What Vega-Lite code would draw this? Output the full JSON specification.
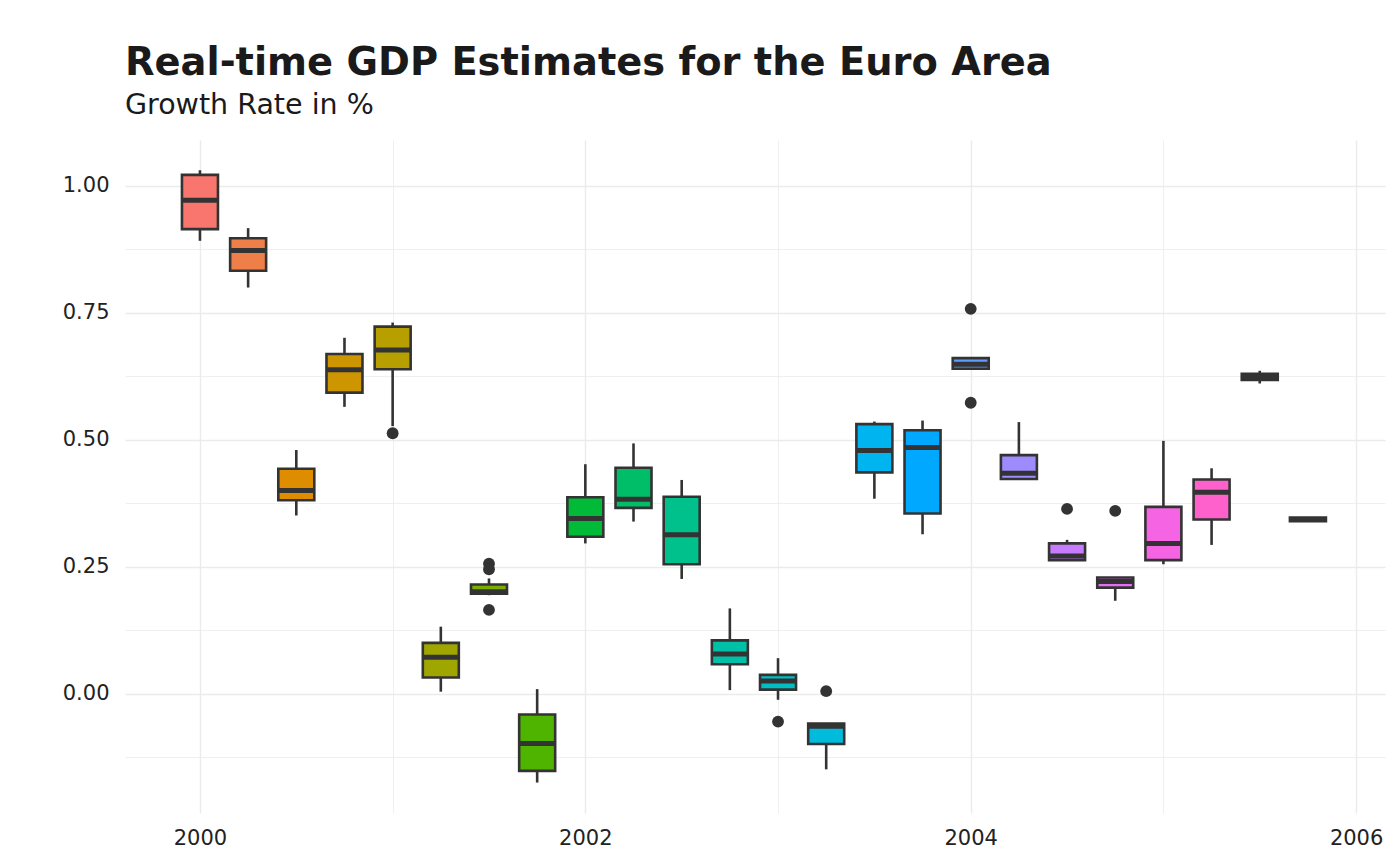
{
  "$schema": "https://vega.github.io/schema/vega-lite/v6.json",
  "autosize": "none",
  "width": 1260,
  "height": 673,
  "padding": {"left": 125, "top": 140, "right": 15, "bottom": 52},
  "background": "white",
  "title": {
    "text": "Real-time GDP Estimates for the Euro Area",
    "subtitle": "Growth Rate in %",
    "anchor": "start",
    "frame": "group",
    "font": "DejaVu Sans",
    "fontSize": 38.4,
    "fontWeight": "bold",
    "color": "#1A1A1A",
    "subtitleFont": "DejaVu Sans",
    "subtitleFontSize": 28.5,
    "subtitleColor": "#1A1A1A",
    "subtitlePadding": 7,
    "offset": 20
  },
  "config": {
    "view": {"stroke": null},
    "axis": {
      "domain": false,
      "ticks": false,
      "tickSize": 0,
      "labelFont": "DejaVu Sans",
      "labelFontSize": 21,
      "labelColor": "#222222",
      "gridColor": "#EBEBEB",
      "title": null
    }
  },
  "datasets": {
    "boxes": [
      {"q": "2000Q1", "t": 2000.00, "lo": 0.892, "q1": 0.915, "med": 0.972, "q3": 1.022, "hi": 1.031},
      {"q": "2000Q2", "t": 2000.25, "lo": 0.800, "q1": 0.833, "med": 0.873, "q3": 0.897, "hi": 0.917},
      {"q": "2000Q3", "t": 2000.50, "lo": 0.351, "q1": 0.381, "med": 0.400, "q3": 0.443, "hi": 0.480},
      {"q": "2000Q4", "t": 2000.75, "lo": 0.565, "q1": 0.593, "med": 0.638, "q3": 0.669, "hi": 0.701},
      {"q": "2001Q1", "t": 2001.00, "lo": 0.527, "q1": 0.639, "med": 0.677, "q3": 0.723, "hi": 0.731},
      {"q": "2001Q2", "t": 2001.25, "lo": 0.004, "q1": 0.032, "med": 0.072, "q3": 0.100, "hi": 0.132},
      {"q": "2001Q3", "t": 2001.50, "lo": 0.194, "q1": 0.197, "med": 0.201, "q3": 0.215, "hi": 0.227},
      {"q": "2001Q4", "t": 2001.75, "lo": -0.175, "q1": -0.152, "med": -0.098, "q3": -0.041, "hi": 0.009},
      {"q": "2002Q1", "t": 2002.00, "lo": 0.296, "q1": 0.309, "med": 0.345, "q3": 0.387, "hi": 0.452},
      {"q": "2002Q2", "t": 2002.25, "lo": 0.339, "q1": 0.366, "med": 0.383, "q3": 0.445, "hi": 0.493},
      {"q": "2002Q3", "t": 2002.50, "lo": 0.226, "q1": 0.255, "med": 0.313, "q3": 0.388, "hi": 0.421},
      {"q": "2002Q4", "t": 2002.75, "lo": 0.007, "q1": 0.058, "med": 0.078, "q3": 0.105, "hi": 0.168},
      {"q": "2003Q1", "t": 2003.00, "lo": -0.012, "q1": 0.008, "med": 0.025, "q3": 0.037, "hi": 0.070},
      {"q": "2003Q2", "t": 2003.25, "lo": -0.149, "q1": -0.099, "med": -0.064, "q3": -0.059, "hi": -0.059},
      {"q": "2003Q3", "t": 2003.50, "lo": 0.384, "q1": 0.436, "med": 0.479, "q3": 0.531, "hi": 0.536},
      {"q": "2003Q4", "t": 2003.75, "lo": 0.314, "q1": 0.355, "med": 0.485, "q3": 0.519, "hi": 0.538},
      {"q": "2004Q1", "t": 2004.00, "lo": 0.640, "q1": 0.640, "med": 0.649, "q3": 0.661, "hi": 0.661},
      {"q": "2004Q2", "t": 2004.25, "lo": 0.422, "q1": 0.423, "med": 0.434, "q3": 0.470, "hi": 0.535},
      {"q": "2004Q3", "t": 2004.50, "lo": 0.263, "q1": 0.263, "med": 0.271, "q3": 0.296, "hi": 0.303},
      {"q": "2004Q4", "t": 2004.75, "lo": 0.183, "q1": 0.209, "med": 0.221, "q3": 0.229, "hi": 0.229},
      {"q": "2005Q1", "t": 2005.00, "lo": 0.255, "q1": 0.263, "med": 0.296, "q3": 0.368, "hi": 0.498},
      {"q": "2005Q2", "t": 2005.25, "lo": 0.293, "q1": 0.343, "med": 0.397, "q3": 0.422, "hi": 0.444},
      {"q": "2005Q3", "t": 2005.50, "lo": 0.611, "q1": 0.618, "med": 0.624, "q3": 0.630, "hi": 0.636},
      {"q": "2005Q4", "t": 2005.75, "lo": 0.340, "q1": 0.340, "med": 0.343, "q3": 0.347, "hi": 0.347}
    ],
    "outliers": [
      {"q": "2001Q1", "t": 2001.00, "v": 0.513},
      {"q": "2001Q3", "t": 2001.50, "v": 0.256},
      {"q": "2001Q3", "t": 2001.50, "v": 0.245},
      {"q": "2001Q3", "t": 2001.50, "v": 0.165},
      {"q": "2003Q1", "t": 2003.00, "v": -0.055},
      {"q": "2003Q2", "t": 2003.25, "v": 0.005},
      {"q": "2004Q1", "t": 2004.00, "v": 0.758},
      {"q": "2004Q1", "t": 2004.00, "v": 0.573},
      {"q": "2004Q3", "t": 2004.50, "v": 0.364},
      {"q": "2004Q4", "t": 2004.75, "v": 0.360}
    ]
  },
  "layer": [
    {
      "data": {"name": "boxes"},
      "mark": {"type": "rule", "color": "#333333", "strokeWidth": 2.6},
      "encoding": {
        "x": {
          "field": "t", "type": "quantitative",
          "scale": {"domain": [1999.611, 2006.15], "nice": false, "zero": false, "padding": 0},
          "axis": {
            "values": [2000, 2001, 2002, 2003, 2004, 2005, 2006],
            "labelExpr": "datum.value % 2 == 0 ? format(datum.value, 'd') : ''",
            "labelPadding": 14,
            "gridWidth": {"condition": {"test": "datum.value % 2 == 0", "value": 1.4}, "value": 0.8}
          }
        },
        "y": {
          "field": "lo", "type": "quantitative",
          "scale": {"domain": [-0.235, 1.0906], "nice": false, "zero": false, "padding": 0},
          "axis": {
            "values": [-0.125, 0, 0.125, 0.25, 0.375, 0.5, 0.625, 0.75, 0.875, 1.0],
            "labelExpr": "abs(datum.value * 4 - round(datum.value * 4)) > 0.01 ? '' : format(datum.value, '.2f')",
            "labelPadding": 16,
            "gridWidth": {"condition": {"test": "abs(datum.value * 4 - round(datum.value * 4)) > 0.01", "value": 0.8}, "value": 1.4}
          }
        },
        "y2": {"field": "hi"}
      }
    },
    {
      "data": {"name": "boxes"},
      "mark": {"type": "bar", "orient": "vertical", "width": 36, "stroke": "#333333", "strokeWidth": 2.6},
      "encoding": {
        "x": {"field": "t", "type": "quantitative"},
        "y": {"field": "q1", "type": "quantitative"},
        "y2": {"field": "q3"},
        "fill": {
          "field": "q", "type": "nominal", "legend": null,
          "scale": {
            "domain": ["2000Q1","2000Q2","2000Q3","2000Q4","2001Q1","2001Q2","2001Q3","2001Q4","2002Q1","2002Q2","2002Q3","2002Q4","2003Q1","2003Q2","2003Q3","2003Q4","2004Q1","2004Q2","2004Q3","2004Q4","2005Q1","2005Q2","2005Q3","2005Q4"],
            "range": ["#F8766D","#EF7F49","#DE8C00","#CD9600","#B79F00","#A0A600","#7CAE00","#4FB400","#00BA38","#00BE67","#00C08B","#00C1A7","#00BFC4","#00BBDB","#00B4F0","#00A9FF","#619CFF","#9E8CFF","#C77CFF","#E36FF5","#F564E3","#FF61CC","#FF64B0","#FC6C95"]
          }
        }
      }
    },
    {
      "data": {"name": "boxes"},
      "mark": {"type": "tick", "orient": "horizontal", "size": 36, "thickness": 5, "color": "#333333", "opacity": 1},
      "encoding": {
        "x": {"field": "t", "type": "quantitative"},
        "y": {"field": "med", "type": "quantitative"}
      }
    },
    {
      "data": {"name": "outliers"},
      "mark": {"type": "point", "filled": true, "size": 140, "color": "#333333", "opacity": 1},
      "encoding": {
        "x": {"field": "t", "type": "quantitative"},
        "y": {"field": "v", "type": "quantitative"}
      }
    }
  ]
}
